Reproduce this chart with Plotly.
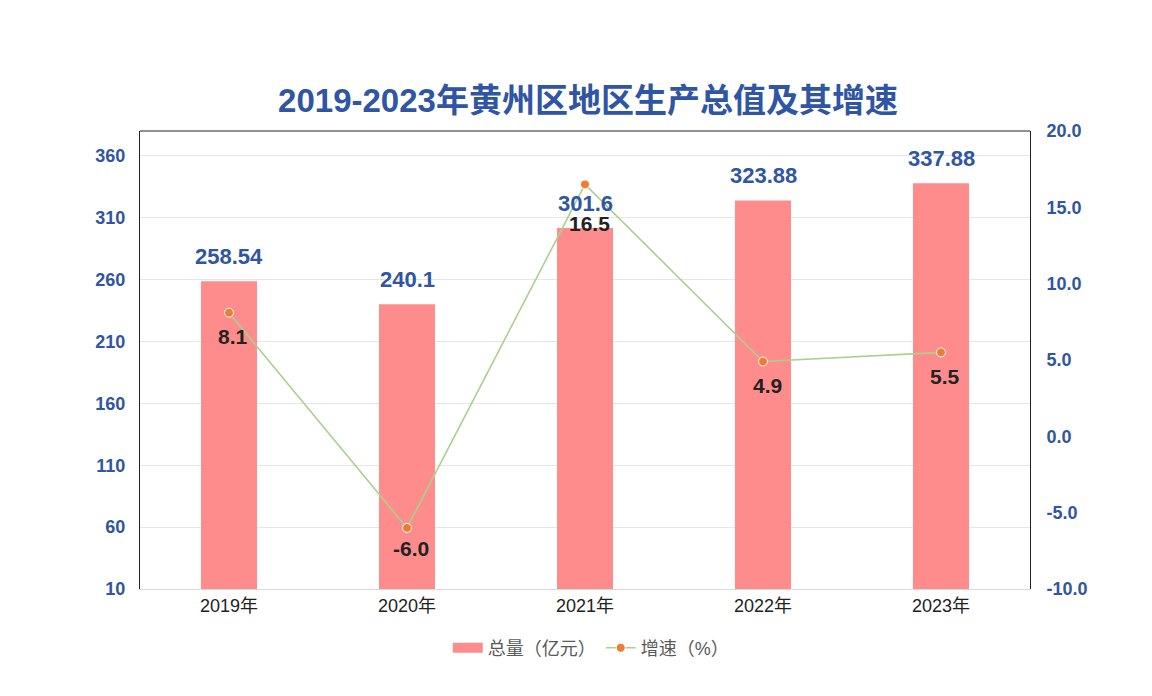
import plotly.graph_objs as go

# 数据
years = ['2019年', '2020年', '2021年', '2022年', '2023年']
total = [258.54, 240.1, 301.6, 323.88, 337.88]
growth = [8.1, -6.0, 16.5, 4.9, 5.5]
right_ticks = [-10, -5, 0, 5, 10, 15, 20]
right_ticktext = ['-10.0', '-5.0', '0.0', '5.0', '10.0', '15.0', '20.0']

blue = '#2F55A3'
num_font = 'Liberation Sans, Arial'
# 折线标签相对数据点的下移量（像素）
growth_label_shift = [-24, -21, -39, -24, -24]

fig = go.Figure()

fig.add_trace(go.Bar(
    x=years, y=total, name='总量（亿元）', showlegend=False,
    marker=dict(color='#FF8C8C', line=dict(width=0)),
    width=0.315,
))
# 图例用的宽色块
fig.add_trace(go.Scatter(
    x=[None], y=[None], name='总量（亿元）', mode='lines',
    line=dict(color='#FF8C8C', width=13),
))

fig.add_trace(go.Scatter(
    x=years, y=growth, name='增速（%）', yaxis='y2',
    mode='lines+markers',
    line=dict(color='#A9D18E', width=1.6),
    marker=dict(color='#ED7D31', size=9, line=dict(color='white', width=1)),
))

annotations = []
for yr, v in zip(years, total):
    annotations.append(dict(x=yr, y=v, xref='x', yref='y', text=f'{v:g}', showarrow=False,
                            yanchor='bottom', yshift=10,
                            font=dict(family=num_font, size=22, color=blue, weight='bold')))
for yr, v, s in zip(years, growth, growth_label_shift):
    annotations.append(dict(x=yr, y=v, xref='x', yref='y2', text=f'{v:.1f}', showarrow=False,
                            yanchor='middle', yshift=s, xshift=4,
                            font=dict(family=num_font, size=21, color='#222222', weight='bold')))

# 页面body有8px边距，这里整体补偿
fig.update_layout(
    width=1144, height=688,
    paper_bgcolor='white', plot_bgcolor='white',
    margin=dict(l=132, r=122, t=123, b=107),
    title=dict(text='2019-2023年黄州区地区生产总值及其增速', x=0.507, xanchor='center', y=0.865, yanchor='middle',
               font=dict(family='Liberation Sans, Noto Sans CJK SC', size=33, color=blue, weight='bold')),
    xaxis=dict(showline=True, linecolor='#D9D9D9', linewidth=1, ticks='', automargin=False,
               tickfont=dict(family='Liberation Sans, Noto Sans CJK SC', size=18, color='#222222')),
    yaxis=dict(range=[10, 380], tick0=10, dtick=50, showgrid=True, gridcolor='#E6E6E6',
               showline=True, linecolor='#222222', linewidth=1, zeroline=False, ticklabelstandoff=10,
               automargin=False,
               tickfont=dict(family=num_font, size=18, color=blue, weight='bold')),
    yaxis2=dict(range=[-10, 20], tickvals=right_ticks, ticktext=right_ticktext, overlaying='y', side='right',
                showgrid=False, zeroline=False, showline=True, linecolor='#222222', linewidth=1,
                ticklabelstandoff=12, automargin=False,
                tickfont=dict(family=num_font, size=18, color=blue, weight='bold')),
    legend=dict(orientation='h', x=0.507, xanchor='center', y=-0.129, yanchor='middle',
                font=dict(family='Liberation Sans, Noto Sans CJK SC', size=18, color='#595959')),
    annotations=annotations,
    shapes=[dict(type='line', xref='paper', yref='paper', x0=0, x1=1, y0=1, y1=1,
                 line=dict(color='#222222', width=1))],
)

fig.write_html('out.html')
